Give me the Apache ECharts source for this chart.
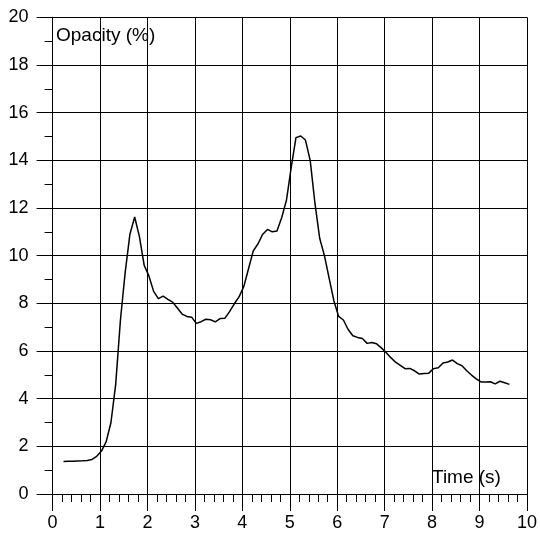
<!DOCTYPE html>
<html>
<head>
<meta charset="utf-8">
<script src="https://cdn.jsdelivr.net/npm/echarts@6/dist/echarts.min.js"></script>
<style>html,body{margin:0;padding:0;background:#fff;}#c{width:540px;height:537px;}</style>
</head>
<body>
<div id="c"></div>
<script>
var times = [0.23,0.33,0.43,0.53,0.63,0.73,0.83,0.93,1.03,1.13,1.23,1.33,1.43,1.53,1.63,1.73,1.83,1.93,2.03,2.13,2.23,2.33,2.43,2.53,2.63,2.73,2.83,2.93,3.03,3.13,3.23,3.33,3.43,3.53,3.63,3.73,3.83,3.93,4.03,4.13,4.23,4.33,4.43,4.53,4.63,4.73,4.83,4.93,5.03,5.13,5.23,5.33,5.43,5.53,5.63,5.73,5.83,5.93,6.03,6.13,6.23,6.33,6.43,6.53,6.63,6.73,6.83,6.93,7.03,7.13,7.23,7.33,7.43,7.53,7.63,7.73,7.83,7.93,8.03,8.13,8.23,8.33,8.43,8.53,8.63,8.73,8.83,8.93,9.03,9.13,9.23,9.33,9.43,9.53,9.63];
var opacity = [1.36,1.37,1.37,1.38,1.39,1.41,1.45,1.58,1.8,2.2,3.0,4.6,7.3,9.3,10.9,11.62,10.8,9.6,9.15,8.5,8.2,8.3,8.17,8.05,7.8,7.55,7.45,7.42,7.16,7.23,7.33,7.31,7.22,7.36,7.37,7.65,7.98,8.27,8.7,9.45,10.2,10.5,10.9,11.1,11.0,11.03,11.6,12.33,13.7,14.95,15.02,14.85,14.0,12.2,10.73,10.0,9.05,8.1,7.45,7.3,6.9,6.64,6.57,6.52,6.32,6.36,6.3,6.13,5.94,5.72,5.53,5.4,5.26,5.27,5.17,5.03,5.06,5.07,5.26,5.3,5.5,5.54,5.62,5.47,5.38,5.17,4.99,4.83,4.7,4.7,4.71,4.62,4.73,4.67,4.6];
var xTitle = 'Time (s)';
var yTitle = 'Opacity (%)';

var data = times.map(function(t, i){ return [t, opacity[i]]; });
var font = '"Liberation Sans", Arial, sans-serif';
var black = {color: '#000', width: 1};
var chart = echarts.init(document.getElementById('c'), null, {renderer:'canvas'});
chart.setOption({
  animation: false,
  backgroundColor: '#fff',
  grid: {left: 52.6, right: 11, top: 17.3, bottom: 43, containLabel: false},
  xAxis: {
    type: 'value', min: 0, max: 10, interval: 1,
    axisLine: {show: true, onZero: false, lineStyle: black},
    axisTick: {show: true, length: 17, lineStyle: black},
    minorTick: {show: true, splitNumber: 5, length: 8, lineStyle: black},
    splitLine: {show: true, lineStyle: black},
    axisLabel: {color: '#000', fontSize: 18, fontFamily: font, margin: 20}
  },
  yAxis: {
    type: 'value', min: 0, max: 20, interval: 2,
    axisLine: {show: true, onZero: false, lineStyle: black},
    axisTick: {show: true, length: 16, lineStyle: black},
    minorTick: {show: true, splitNumber: 2, length: 8, lineStyle: black},
    splitLine: {show: true, lineStyle: black},
    axisLabel: {color: '#000', fontSize: 18, fontFamily: font, margin: 24}
  },
  graphic: [
    {type: 'text', left: 56, top: 26, style: {text: yTitle, fill: '#000', font: '19px ' + font}},
    {type: 'text', left: 432, top: 468, style: {text: xTitle, fill: '#000', font: '19px ' + font}}
  ],
  series: [{
    type: 'line', data: data, showSymbol: false, symbol: 'none',
    lineStyle: {color: '#000', width: 1.5}, z: 5
  }]
});
</script>
</body>
</html>
